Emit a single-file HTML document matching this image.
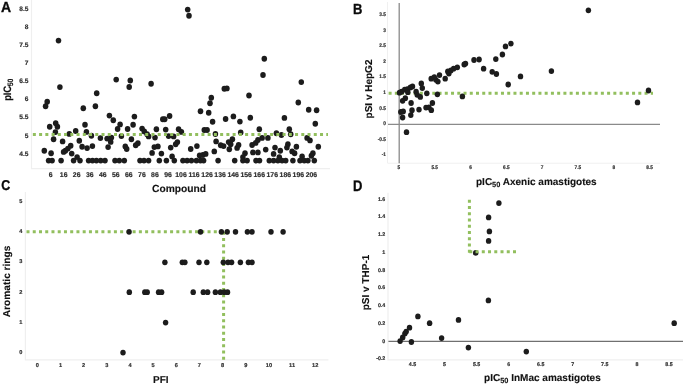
<!DOCTYPE html><html><head><meta charset="utf-8"><style>
html,body{margin:0;padding:0;background:#fff;width:685px;height:385px;overflow:hidden}
svg{display:block;font-family:"Liberation Sans",sans-serif;will-change:transform;text-rendering:geometricPrecision;filter:blur(0.3px)}
.t{font-weight:bold;fill:#2e2e2e;stroke:#2e2e2e;stroke-width:0.18px}
.L{font-weight:bold;fill:#111;font-size:10px;stroke:#111;stroke-width:0.12px}
.P{font-weight:bold;fill:#0a0a0a;font-size:14px;stroke:#0a0a0a;stroke-width:0.3px}
</style></head><body>
<svg width="685" height="385" viewBox="0 0 685 385">
<text class="P" transform="translate(0.9 11.75) scale(1 1.045)">A</text>
<path d="M31.5 0V168.6H330" fill="none" stroke="#efefef" stroke-width="1.2"/>
<text class="t" font-size="6.6" transform="translate(28.40 11.10)" text-anchor="end">8.5</text>
<text class="t" font-size="6.6" transform="translate(28.40 29.16)" text-anchor="end">8</text>
<text class="t" font-size="6.6" transform="translate(28.40 47.22)" text-anchor="end">7.5</text>
<text class="t" font-size="6.6" transform="translate(28.40 65.28)" text-anchor="end">7</text>
<text class="t" font-size="6.6" transform="translate(28.40 83.34)" text-anchor="end">6.5</text>
<text class="t" font-size="6.6" transform="translate(28.40 101.40)" text-anchor="end">6</text>
<text class="t" font-size="6.6" transform="translate(28.40 119.46)" text-anchor="end">5.5</text>
<text class="t" font-size="6.6" transform="translate(28.40 137.52)" text-anchor="end">5</text>
<text class="t" font-size="6.6" transform="translate(28.40 155.58)" text-anchor="end">4.5</text>
<text class="t" font-size="6.9" transform="translate(50.60 176.75)" text-anchor="middle">6</text>
<text class="t" font-size="6.9" transform="translate(63.64 176.75)" text-anchor="middle">16</text>
<text class="t" font-size="6.9" transform="translate(76.68 176.75)" text-anchor="middle">26</text>
<text class="t" font-size="6.9" transform="translate(89.72 176.75)" text-anchor="middle">36</text>
<text class="t" font-size="6.9" transform="translate(102.76 176.75)" text-anchor="middle">46</text>
<text class="t" font-size="6.9" transform="translate(115.80 176.75)" text-anchor="middle">56</text>
<text class="t" font-size="6.9" transform="translate(128.84 176.75)" text-anchor="middle">66</text>
<text class="t" font-size="6.9" transform="translate(141.88 176.75)" text-anchor="middle">76</text>
<text class="t" font-size="6.9" transform="translate(154.92 176.75)" text-anchor="middle">86</text>
<text class="t" font-size="6.9" transform="translate(167.96 176.75)" text-anchor="middle">96</text>
<text class="t" font-size="6.9" transform="translate(181.00 176.75)" text-anchor="middle">106</text>
<text class="t" font-size="6.9" transform="translate(194.04 176.75)" text-anchor="middle">116</text>
<text class="t" font-size="6.9" transform="translate(207.08 176.75)" text-anchor="middle">126</text>
<text class="t" font-size="6.9" transform="translate(220.12 176.75)" text-anchor="middle">136</text>
<text class="t" font-size="6.9" transform="translate(233.16 176.75)" text-anchor="middle">146</text>
<text class="t" font-size="6.9" transform="translate(246.20 176.75)" text-anchor="middle">156</text>
<text class="t" font-size="6.9" transform="translate(259.24 176.75)" text-anchor="middle">166</text>
<text class="t" font-size="6.9" transform="translate(272.28 176.75)" text-anchor="middle">176</text>
<text class="t" font-size="6.9" transform="translate(285.32 176.75)" text-anchor="middle">186</text>
<text class="t" font-size="6.9" transform="translate(298.36 176.75)" text-anchor="middle">196</text>
<text class="t" font-size="6.9" transform="translate(311.40 176.75)" text-anchor="middle">206</text>
<g fill="#1c1c1c"><ellipse cx="58.5" cy="40.6" rx="2.78" ry="2.95"/><ellipse cx="187.7" cy="9.6" rx="2.78" ry="2.95"/><ellipse cx="189.0" cy="15.8" rx="2.78" ry="2.95"/><ellipse cx="264.3" cy="58.7" rx="2.78" ry="2.95"/><ellipse cx="263.0" cy="75.0" rx="2.78" ry="2.95"/><ellipse cx="59.9" cy="87.1" rx="2.78" ry="2.95"/><ellipse cx="47.2" cy="101.7" rx="2.78" ry="2.95"/><ellipse cx="45.6" cy="106.2" rx="2.78" ry="2.95"/><ellipse cx="83.3" cy="108.2" rx="2.78" ry="2.95"/><ellipse cx="49.7" cy="126.7" rx="2.78" ry="2.95"/><ellipse cx="55.7" cy="123.3" rx="2.78" ry="2.95"/><ellipse cx="57.4" cy="126.7" rx="2.78" ry="2.95"/><ellipse cx="55.4" cy="132.1" rx="2.78" ry="2.95"/><ellipse cx="53.6" cy="139.3" rx="2.78" ry="2.95"/><ellipse cx="62.6" cy="141.4" rx="2.78" ry="2.95"/><ellipse cx="69.3" cy="133.9" rx="2.78" ry="2.95"/><ellipse cx="75.7" cy="131.0" rx="2.78" ry="2.95"/><ellipse cx="85.0" cy="124.7" rx="2.78" ry="2.95"/><ellipse cx="86.4" cy="131.9" rx="2.78" ry="2.95"/><ellipse cx="91.4" cy="135.7" rx="2.78" ry="2.95"/><ellipse cx="79.3" cy="140.7" rx="2.78" ry="2.95"/><ellipse cx="82.1" cy="146.7" rx="2.78" ry="2.95"/><ellipse cx="87.1" cy="148.1" rx="2.78" ry="2.95"/><ellipse cx="92.4" cy="146.1" rx="2.78" ry="2.95"/><ellipse cx="44.3" cy="150.7" rx="2.78" ry="2.95"/><ellipse cx="51.1" cy="153.3" rx="2.78" ry="2.95"/><ellipse cx="70.7" cy="145.7" rx="2.78" ry="2.95"/><ellipse cx="67.9" cy="148.6" rx="2.78" ry="2.95"/><ellipse cx="65.4" cy="150.7" rx="2.78" ry="2.95"/><ellipse cx="63.6" cy="151.9" rx="2.78" ry="2.95"/><ellipse cx="71.7" cy="153.6" rx="2.78" ry="2.95"/><ellipse cx="77.1" cy="157.1" rx="2.78" ry="2.95"/><ellipse cx="116.2" cy="79.6" rx="2.78" ry="2.95"/><ellipse cx="130.3" cy="80.5" rx="2.78" ry="2.95"/><ellipse cx="129.2" cy="87.0" rx="2.78" ry="2.95"/><ellipse cx="96.7" cy="93.2" rx="2.78" ry="2.95"/><ellipse cx="95.4" cy="106.2" rx="2.78" ry="2.95"/><ellipse cx="109.4" cy="115.6" rx="2.78" ry="2.95"/><ellipse cx="113.3" cy="120.3" rx="2.78" ry="2.95"/><ellipse cx="134.4" cy="116.6" rx="2.78" ry="2.95"/><ellipse cx="120.1" cy="124.4" rx="2.78" ry="2.95"/><ellipse cx="133.1" cy="124.7" rx="2.78" ry="2.95"/><ellipse cx="100.4" cy="138.1" rx="2.78" ry="2.95"/><ellipse cx="107.1" cy="138.6" rx="2.78" ry="2.95"/><ellipse cx="111.4" cy="137.6" rx="2.78" ry="2.95"/><ellipse cx="110.7" cy="141.9" rx="2.78" ry="2.95"/><ellipse cx="117.6" cy="129.0" rx="2.78" ry="2.95"/><ellipse cx="121.4" cy="136.1" rx="2.78" ry="2.95"/><ellipse cx="127.6" cy="129.0" rx="2.78" ry="2.95"/><ellipse cx="131.4" cy="139.3" rx="2.78" ry="2.95"/><ellipse cx="135.7" cy="145.3" rx="2.78" ry="2.95"/><ellipse cx="137.9" cy="143.3" rx="2.78" ry="2.95"/><ellipse cx="142.1" cy="128.6" rx="2.78" ry="2.95"/><ellipse cx="144.3" cy="131.4" rx="2.78" ry="2.95"/><ellipse cx="147.1" cy="134.3" rx="2.78" ry="2.95"/><ellipse cx="108.1" cy="147.1" rx="2.78" ry="2.95"/><ellipse cx="125.3" cy="146.4" rx="2.78" ry="2.95"/><ellipse cx="126.7" cy="149.0" rx="2.78" ry="2.95"/><ellipse cx="151.1" cy="83.8" rx="2.78" ry="2.95"/><ellipse cx="169.6" cy="116.0" rx="2.78" ry="2.95"/><ellipse cx="162.8" cy="119.2" rx="2.78" ry="2.95"/><ellipse cx="164.7" cy="119.2" rx="2.78" ry="2.95"/><ellipse cx="200.5" cy="111.2" rx="2.78" ry="2.95"/><ellipse cx="148.6" cy="136.4" rx="2.78" ry="2.95"/><ellipse cx="156.4" cy="129.3" rx="2.78" ry="2.95"/><ellipse cx="155.0" cy="137.6" rx="2.78" ry="2.95"/><ellipse cx="165.7" cy="129.6" rx="2.78" ry="2.95"/><ellipse cx="168.6" cy="136.1" rx="2.78" ry="2.95"/><ellipse cx="173.6" cy="136.4" rx="2.78" ry="2.95"/><ellipse cx="178.6" cy="129.3" rx="2.78" ry="2.95"/><ellipse cx="181.4" cy="131.9" rx="2.78" ry="2.95"/><ellipse cx="204.3" cy="130.0" rx="2.78" ry="2.95"/><ellipse cx="154.3" cy="147.1" rx="2.78" ry="2.95"/><ellipse cx="157.9" cy="146.4" rx="2.78" ry="2.95"/><ellipse cx="152.1" cy="152.9" rx="2.78" ry="2.95"/><ellipse cx="161.4" cy="153.6" rx="2.78" ry="2.95"/><ellipse cx="170.7" cy="147.6" rx="2.78" ry="2.95"/><ellipse cx="175.7" cy="144.3" rx="2.78" ry="2.95"/><ellipse cx="177.4" cy="142.1" rx="2.78" ry="2.95"/><ellipse cx="190.7" cy="149.0" rx="2.78" ry="2.95"/><ellipse cx="196.9" cy="146.1" rx="2.78" ry="2.95"/><ellipse cx="172.1" cy="156.4" rx="2.78" ry="2.95"/><ellipse cx="199.6" cy="155.5" rx="2.78" ry="2.95"/><ellipse cx="202.9" cy="155.0" rx="2.78" ry="2.95"/><ellipse cx="224.3" cy="88.7" rx="2.78" ry="2.95"/><ellipse cx="226.9" cy="88.4" rx="2.78" ry="2.95"/><ellipse cx="211.3" cy="97.8" rx="2.78" ry="2.95"/><ellipse cx="210.0" cy="103.3" rx="2.78" ry="2.95"/><ellipse cx="208.7" cy="112.7" rx="2.78" ry="2.95"/><ellipse cx="249.0" cy="95.5" rx="2.78" ry="2.95"/><ellipse cx="212.6" cy="121.8" rx="2.78" ry="2.95"/><ellipse cx="225.6" cy="119.0" rx="2.78" ry="2.95"/><ellipse cx="233.4" cy="116.4" rx="2.78" ry="2.95"/><ellipse cx="239.9" cy="121.6" rx="2.78" ry="2.95"/><ellipse cx="250.3" cy="117.7" rx="2.78" ry="2.95"/><ellipse cx="207.1" cy="130.0" rx="2.78" ry="2.95"/><ellipse cx="215.4" cy="134.0" rx="2.78" ry="2.95"/><ellipse cx="240.7" cy="132.4" rx="2.78" ry="2.95"/><ellipse cx="259.3" cy="129.3" rx="2.78" ry="2.95"/><ellipse cx="216.1" cy="141.4" rx="2.78" ry="2.95"/><ellipse cx="220.7" cy="145.3" rx="2.78" ry="2.95"/><ellipse cx="223.6" cy="146.1" rx="2.78" ry="2.95"/><ellipse cx="228.6" cy="142.1" rx="2.78" ry="2.95"/><ellipse cx="232.4" cy="139.3" rx="2.78" ry="2.95"/><ellipse cx="230.7" cy="144.3" rx="2.78" ry="2.95"/><ellipse cx="229.3" cy="149.3" rx="2.78" ry="2.95"/><ellipse cx="237.1" cy="147.9" rx="2.78" ry="2.95"/><ellipse cx="238.6" cy="145.0" rx="2.78" ry="2.95"/><ellipse cx="214.3" cy="151.4" rx="2.78" ry="2.95"/><ellipse cx="205.7" cy="153.9" rx="2.78" ry="2.95"/><ellipse cx="252.1" cy="145.0" rx="2.78" ry="2.95"/><ellipse cx="255.7" cy="142.9" rx="2.78" ry="2.95"/><ellipse cx="257.9" cy="140.0" rx="2.78" ry="2.95"/><ellipse cx="252.9" cy="152.4" rx="2.78" ry="2.95"/><ellipse cx="257.9" cy="152.4" rx="2.78" ry="2.95"/><ellipse cx="245.0" cy="153.3" rx="2.78" ry="2.95"/><ellipse cx="242.9" cy="157.1" rx="2.78" ry="2.95"/><ellipse cx="301.3" cy="82.1" rx="2.78" ry="2.95"/><ellipse cx="298.3" cy="102.5" rx="2.78" ry="2.95"/><ellipse cx="308.7" cy="109.8" rx="2.78" ry="2.95"/><ellipse cx="316.6" cy="110.3" rx="2.78" ry="2.95"/><ellipse cx="284.4" cy="117.9" rx="2.78" ry="2.95"/><ellipse cx="315.3" cy="123.7" rx="2.78" ry="2.95"/><ellipse cx="289.3" cy="129.3" rx="2.78" ry="2.95"/><ellipse cx="276.4" cy="133.3" rx="2.78" ry="2.95"/><ellipse cx="281.4" cy="135.0" rx="2.78" ry="2.95"/><ellipse cx="290.7" cy="134.3" rx="2.78" ry="2.95"/><ellipse cx="262.1" cy="137.9" rx="2.78" ry="2.95"/><ellipse cx="267.9" cy="137.9" rx="2.78" ry="2.95"/><ellipse cx="307.1" cy="137.9" rx="2.78" ry="2.95"/><ellipse cx="310.0" cy="140.4" rx="2.78" ry="2.95"/><ellipse cx="275.0" cy="147.6" rx="2.78" ry="2.95"/><ellipse cx="265.7" cy="149.6" rx="2.78" ry="2.95"/><ellipse cx="287.9" cy="144.3" rx="2.78" ry="2.95"/><ellipse cx="286.9" cy="147.6" rx="2.78" ry="2.95"/><ellipse cx="296.4" cy="146.7" rx="2.78" ry="2.95"/><ellipse cx="318.3" cy="146.7" rx="2.78" ry="2.95"/><ellipse cx="280.3" cy="150.7" rx="2.78" ry="2.95"/><ellipse cx="273.6" cy="153.9" rx="2.78" ry="2.95"/><ellipse cx="292.1" cy="151.4" rx="2.78" ry="2.95"/><ellipse cx="294.6" cy="153.3" rx="2.78" ry="2.95"/><ellipse cx="312.9" cy="153.3" rx="2.78" ry="2.95"/><ellipse cx="302.1" cy="156.4" rx="2.78" ry="2.95"/><ellipse cx="311.4" cy="155.7" rx="2.78" ry="2.95"/><ellipse cx="279.3" cy="157.1" rx="2.78" ry="2.95"/><ellipse cx="48.6" cy="160.6" rx="2.78" ry="2.95"/><ellipse cx="52.1" cy="160.6" rx="2.78" ry="2.95"/><ellipse cx="61.1" cy="160.6" rx="2.78" ry="2.95"/><ellipse cx="73.6" cy="160.6" rx="2.78" ry="2.95"/><ellipse cx="80.0" cy="160.6" rx="2.78" ry="2.95"/><ellipse cx="88.6" cy="160.6" rx="2.78" ry="2.95"/><ellipse cx="92.5" cy="160.6" rx="2.78" ry="2.95"/><ellipse cx="96.4" cy="160.6" rx="2.78" ry="2.95"/><ellipse cx="100.7" cy="160.6" rx="2.78" ry="2.95"/><ellipse cx="105.0" cy="160.6" rx="2.78" ry="2.95"/><ellipse cx="115.0" cy="160.6" rx="2.78" ry="2.95"/><ellipse cx="119.3" cy="160.6" rx="2.78" ry="2.95"/><ellipse cx="124.3" cy="160.6" rx="2.78" ry="2.95"/><ellipse cx="140.0" cy="160.6" rx="2.78" ry="2.95"/><ellipse cx="144.0" cy="160.6" rx="2.78" ry="2.95"/><ellipse cx="148.6" cy="160.6" rx="2.78" ry="2.95"/><ellipse cx="159.3" cy="160.6" rx="2.78" ry="2.95"/><ellipse cx="166.4" cy="160.6" rx="2.78" ry="2.95"/><ellipse cx="174.3" cy="160.6" rx="2.78" ry="2.95"/><ellipse cx="182.9" cy="160.6" rx="2.78" ry="2.95"/><ellipse cx="187.1" cy="160.6" rx="2.78" ry="2.95"/><ellipse cx="191.4" cy="160.6" rx="2.78" ry="2.95"/><ellipse cx="196.4" cy="160.6" rx="2.78" ry="2.95"/><ellipse cx="200.5" cy="160.6" rx="2.78" ry="2.95"/><ellipse cx="203.6" cy="160.6" rx="2.78" ry="2.95"/><ellipse cx="218.1" cy="160.6" rx="2.78" ry="2.95"/><ellipse cx="234.7" cy="160.6" rx="2.78" ry="2.95"/><ellipse cx="242.9" cy="160.6" rx="2.78" ry="2.95"/><ellipse cx="247.1" cy="160.6" rx="2.78" ry="2.95"/><ellipse cx="256.0" cy="160.6" rx="2.78" ry="2.95"/><ellipse cx="259.5" cy="160.6" rx="2.78" ry="2.95"/><ellipse cx="269.3" cy="160.6" rx="2.78" ry="2.95"/><ellipse cx="273.6" cy="160.6" rx="2.78" ry="2.95"/><ellipse cx="277.9" cy="160.6" rx="2.78" ry="2.95"/><ellipse cx="282.1" cy="160.6" rx="2.78" ry="2.95"/><ellipse cx="285.7" cy="160.6" rx="2.78" ry="2.95"/><ellipse cx="292.9" cy="160.6" rx="2.78" ry="2.95"/><ellipse cx="300.0" cy="160.6" rx="2.78" ry="2.95"/><ellipse cx="304.3" cy="160.6" rx="2.78" ry="2.95"/><ellipse cx="307.9" cy="160.6" rx="2.78" ry="2.95"/><ellipse cx="314.3" cy="160.6" rx="2.78" ry="2.95"/></g>
<line x1="32.85" y1="134.4" x2="328" y2="134.4" stroke="#92bf5e" stroke-width="3" stroke-dasharray="3 3.243"/>
<text class="L" x="152.0" y="191.9" style="font-size:10.25px">Compound</text>
<text class="L" transform="translate(11.2 100.7) rotate(-90) scale(0.96 1.08)" letter-spacing="-0.35">pIC<tspan font-size="7.2" dy="1.5" letter-spacing="0">50</tspan></text>
<text class="P" transform="translate(352.9 13.75) scale(0.93 1.05)">B</text>
<path d="M387.5 2V163.2H660" fill="none" stroke="#f0f0f0" stroke-width="1"/>
<line x1="399.2" y1="3" x2="399.2" y2="163.2" stroke="#8a8a8a" stroke-width="1.3"/>
<line x1="388" y1="124.4" x2="660" y2="124.4" stroke="#8a8a8a" stroke-width="1.3"/>
<text class="t" font-size="5.2" transform="translate(385.90 16.00) scale(0.92 1)" text-anchor="end">3.5</text>
<text class="t" font-size="5.2" transform="translate(385.90 31.60) scale(0.92 1)" text-anchor="end">3</text>
<text class="t" font-size="5.2" transform="translate(385.90 47.20) scale(0.92 1)" text-anchor="end">2.5</text>
<text class="t" font-size="5.2" transform="translate(385.90 62.80) scale(0.92 1)" text-anchor="end">2</text>
<text class="t" font-size="5.2" transform="translate(385.90 78.40) scale(0.92 1)" text-anchor="end">1.5</text>
<text class="t" font-size="5.2" transform="translate(385.90 94.00) scale(0.92 1)" text-anchor="end">1</text>
<text class="t" font-size="5.2" transform="translate(385.90 109.60) scale(0.92 1)" text-anchor="end">0.5</text>
<text class="t" font-size="5.2" transform="translate(385.90 125.20) scale(0.92 1)" text-anchor="end">0</text>
<text class="t" font-size="5.2" transform="translate(385.90 140.80) scale(0.92 1)" text-anchor="end">-0.5</text>
<text class="t" font-size="5.2" transform="translate(385.90 156.40) scale(0.92 1)" text-anchor="end">-1</text>
<text class="t" font-size="5.2" transform="translate(398.90 169.10) scale(0.92 1)" text-anchor="middle">5</text>
<text class="t" font-size="5.2" transform="translate(434.70 169.10) scale(0.92 1)" text-anchor="middle">5.5</text>
<text class="t" font-size="5.2" transform="translate(470.50 169.10) scale(0.92 1)" text-anchor="middle">6</text>
<text class="t" font-size="5.2" transform="translate(506.30 169.10) scale(0.92 1)" text-anchor="middle">6.5</text>
<text class="t" font-size="5.2" transform="translate(542.10 169.10) scale(0.92 1)" text-anchor="middle">7</text>
<text class="t" font-size="5.2" transform="translate(577.90 169.10) scale(0.92 1)" text-anchor="middle">7.5</text>
<text class="t" font-size="5.2" transform="translate(613.70 169.10) scale(0.92 1)" text-anchor="middle">8</text>
<text class="t" font-size="5.2" transform="translate(649.50 169.10) scale(0.92 1)" text-anchor="middle">8.5</text>
<line x1="388.6" y1="93.2" x2="653" y2="93.2" stroke="#92bf5e" stroke-width="3" stroke-dasharray="3 3.243"/>
<g fill="#1c1c1c"><ellipse cx="399.5" cy="92.7" rx="2.73" ry="2.90"/><ellipse cx="401.6" cy="91.7" rx="2.73" ry="2.90"/><ellipse cx="404.7" cy="89.6" rx="2.73" ry="2.90"/><ellipse cx="407.3" cy="89.1" rx="2.73" ry="2.90"/><ellipse cx="410.4" cy="87.5" rx="2.73" ry="2.90"/><ellipse cx="412.5" cy="86.5" rx="2.73" ry="2.90"/><ellipse cx="407.8" cy="92.2" rx="2.73" ry="2.90"/><ellipse cx="416.1" cy="91.7" rx="2.73" ry="2.90"/><ellipse cx="417.2" cy="94.8" rx="2.73" ry="2.90"/><ellipse cx="420.3" cy="96.9" rx="2.73" ry="2.90"/><ellipse cx="405.3" cy="98.2" rx="2.73" ry="2.90"/><ellipse cx="402.6" cy="100.8" rx="2.73" ry="2.90"/><ellipse cx="411.1" cy="103.0" rx="2.73" ry="2.90"/><ellipse cx="421.3" cy="83.4" rx="2.73" ry="2.90"/><ellipse cx="422.3" cy="88.1" rx="2.73" ry="2.90"/><ellipse cx="426.8" cy="93.3" rx="2.73" ry="2.90"/><ellipse cx="437.4" cy="94.3" rx="2.73" ry="2.90"/><ellipse cx="431.2" cy="78.7" rx="2.73" ry="2.90"/><ellipse cx="434.3" cy="77.2" rx="2.73" ry="2.90"/><ellipse cx="435.9" cy="79.8" rx="2.73" ry="2.90"/><ellipse cx="437.9" cy="81.6" rx="2.73" ry="2.90"/><ellipse cx="439.5" cy="75.1" rx="2.73" ry="2.90"/><ellipse cx="445.2" cy="78.7" rx="2.73" ry="2.90"/><ellipse cx="447.8" cy="71.4" rx="2.73" ry="2.90"/><ellipse cx="448.9" cy="73.5" rx="2.73" ry="2.90"/><ellipse cx="450.9" cy="70.4" rx="2.73" ry="2.90"/><ellipse cx="453.6" cy="68.7" rx="2.73" ry="2.90"/><ellipse cx="457.3" cy="67.3" rx="2.73" ry="2.90"/><ellipse cx="464.2" cy="64.5" rx="2.73" ry="2.90"/><ellipse cx="465.5" cy="63.6" rx="2.73" ry="2.90"/><ellipse cx="474.0" cy="60.0" rx="2.73" ry="2.90"/><ellipse cx="479.1" cy="59.5" rx="2.73" ry="2.90"/><ellipse cx="483.6" cy="68.7" rx="2.73" ry="2.90"/><ellipse cx="492.2" cy="71.8" rx="2.73" ry="2.90"/><ellipse cx="496.4" cy="74.0" rx="2.73" ry="2.90"/><ellipse cx="495.8" cy="59.1" rx="2.73" ry="2.90"/><ellipse cx="502.4" cy="54.5" rx="2.73" ry="2.90"/><ellipse cx="505.5" cy="46.4" rx="2.73" ry="2.90"/><ellipse cx="510.9" cy="43.6" rx="2.73" ry="2.90"/><ellipse cx="508.2" cy="84.5" rx="2.73" ry="2.90"/><ellipse cx="520.5" cy="76.4" rx="2.73" ry="2.90"/><ellipse cx="551.4" cy="71.1" rx="2.73" ry="2.90"/><ellipse cx="588.4" cy="10.3" rx="2.73" ry="2.90"/><ellipse cx="637.5" cy="102.4" rx="2.73" ry="2.90"/><ellipse cx="648.5" cy="90.5" rx="2.73" ry="2.90"/><ellipse cx="462.4" cy="96.4" rx="2.73" ry="2.90"/><ellipse cx="432.4" cy="103.0" rx="2.73" ry="2.90"/><ellipse cx="426.0" cy="107.6" rx="2.73" ry="2.90"/><ellipse cx="428.9" cy="107.3" rx="2.73" ry="2.90"/><ellipse cx="431.3" cy="110.2" rx="2.73" ry="2.90"/><ellipse cx="419.0" cy="109.6" rx="2.73" ry="2.90"/><ellipse cx="412.0" cy="110.2" rx="2.73" ry="2.90"/><ellipse cx="410.8" cy="115.1" rx="2.73" ry="2.90"/><ellipse cx="400.8" cy="112.0" rx="2.73" ry="2.90"/><ellipse cx="403.2" cy="111.4" rx="2.73" ry="2.90"/><ellipse cx="402.6" cy="117.5" rx="2.73" ry="2.90"/><ellipse cx="406.5" cy="132.2" rx="2.73" ry="2.90"/></g>
<text class="L" transform="translate(372.3 89) rotate(-90)" text-anchor="middle">pSI v HepG2</text>
<text class="L" x="476" y="185.3">pIC<tspan font-size="7.4" dy="1.8">50</tspan><tspan dy="-1.8"> Axenic amastigotes</tspan></text>
<text class="P" transform="translate(1.3 190.1) scale(0.89 1.02)">C</text>
<path d="M25.4 192V359.9H328.4" fill="none" stroke="#efefef" stroke-width="1.2"/>
<text class="t" font-size="5.6" transform="translate(20.70 203.00)" text-anchor="middle">5</text>
<text class="t" font-size="5.6" transform="translate(20.70 233.20)" text-anchor="middle">4</text>
<text class="t" font-size="5.6" transform="translate(20.70 263.40)" text-anchor="middle">3</text>
<text class="t" font-size="5.6" transform="translate(20.70 293.60)" text-anchor="middle">2</text>
<text class="t" font-size="5.6" transform="translate(20.70 323.80)" text-anchor="middle">1</text>
<text class="t" font-size="5.6" transform="translate(20.70 354.00)" text-anchor="middle">0</text>
<text class="t" font-size="5.6" transform="translate(37.30 367.20)" text-anchor="middle">0</text>
<text class="t" font-size="5.6" transform="translate(60.46 367.20)" text-anchor="middle">1</text>
<text class="t" font-size="5.6" transform="translate(83.62 367.20)" text-anchor="middle">2</text>
<text class="t" font-size="5.6" transform="translate(106.78 367.20)" text-anchor="middle">3</text>
<text class="t" font-size="5.6" transform="translate(129.94 367.20)" text-anchor="middle">4</text>
<text class="t" font-size="5.6" transform="translate(153.10 367.20)" text-anchor="middle">5</text>
<text class="t" font-size="5.6" transform="translate(176.26 367.20)" text-anchor="middle">6</text>
<text class="t" font-size="5.6" transform="translate(199.42 367.20)" text-anchor="middle">7</text>
<text class="t" font-size="5.6" transform="translate(222.58 367.20)" text-anchor="middle">8</text>
<text class="t" font-size="5.6" transform="translate(245.74 367.20)" text-anchor="middle">9</text>
<text class="t" font-size="5.6" transform="translate(268.90 367.20)" text-anchor="middle">10</text>
<text class="t" font-size="5.6" transform="translate(292.06 367.20)" text-anchor="middle">11</text>
<text class="t" font-size="5.6" transform="translate(315.22 367.20)" text-anchor="middle">12</text>
<line x1="26.5" y1="231.85" x2="223" y2="231.85" stroke="#92bf5e" stroke-width="3" stroke-dasharray="3 3.243"/>
<line x1="223.6" y1="231.8" x2="223.6" y2="359.7" stroke="#92bf5e" stroke-width="3" stroke-dasharray="3 3.243"/>
<g fill="#1c1c1c"><ellipse cx="123.0" cy="352.6" rx="2.73" ry="2.90"/><ellipse cx="165.6" cy="322.6" rx="2.73" ry="2.90"/><ellipse cx="129.3" cy="292.2" rx="2.73" ry="2.90"/><ellipse cx="144.8" cy="292.2" rx="2.73" ry="2.90"/><ellipse cx="147.2" cy="292.2" rx="2.73" ry="2.90"/><ellipse cx="158.6" cy="292.2" rx="2.73" ry="2.90"/><ellipse cx="161.6" cy="292.2" rx="2.73" ry="2.90"/><ellipse cx="193.2" cy="292.2" rx="2.73" ry="2.90"/><ellipse cx="203.3" cy="292.2" rx="2.73" ry="2.90"/><ellipse cx="207.6" cy="292.2" rx="2.73" ry="2.90"/><ellipse cx="215.4" cy="292.2" rx="2.73" ry="2.90"/><ellipse cx="220.4" cy="292.2" rx="2.73" ry="2.90"/><ellipse cx="224.2" cy="292.2" rx="2.73" ry="2.90"/><ellipse cx="227.5" cy="292.2" rx="2.73" ry="2.90"/><ellipse cx="164.9" cy="262.3" rx="2.73" ry="2.90"/><ellipse cx="182.3" cy="262.3" rx="2.73" ry="2.90"/><ellipse cx="184.9" cy="262.3" rx="2.73" ry="2.90"/><ellipse cx="199.0" cy="262.3" rx="2.73" ry="2.90"/><ellipse cx="206.8" cy="262.3" rx="2.73" ry="2.90"/><ellipse cx="223.3" cy="262.3" rx="2.73" ry="2.90"/><ellipse cx="228.0" cy="262.3" rx="2.73" ry="2.90"/><ellipse cx="231.6" cy="262.3" rx="2.73" ry="2.90"/><ellipse cx="240.4" cy="262.3" rx="2.73" ry="2.90"/><ellipse cx="248.4" cy="262.3" rx="2.73" ry="2.90"/><ellipse cx="252.0" cy="262.3" rx="2.73" ry="2.90"/><ellipse cx="129.1" cy="231.8" rx="2.73" ry="2.90"/><ellipse cx="200.5" cy="231.8" rx="2.73" ry="2.90"/><ellipse cx="221.4" cy="231.8" rx="2.73" ry="2.90"/><ellipse cx="227.2" cy="231.8" rx="2.73" ry="2.90"/><ellipse cx="235.5" cy="231.8" rx="2.73" ry="2.90"/><ellipse cx="247.4" cy="231.8" rx="2.73" ry="2.90"/><ellipse cx="252.0" cy="231.8" rx="2.73" ry="2.90"/><ellipse cx="271.0" cy="231.8" rx="2.73" ry="2.90"/><ellipse cx="283.1" cy="231.8" rx="2.73" ry="2.90"/></g>
<text class="L" transform="translate(10.4 281.4) rotate(-90) scale(1.015 1)" text-anchor="middle">Aromatic rings</text>
<text class="L" x="153" y="382.8">PFI</text>
<text class="P" transform="translate(353 191.0) scale(0.93 1.1)">D</text>
<path d="M388 192.8V359.9H683" fill="none" stroke="#efefef" stroke-width="1.2"/>
<line x1="388.4" y1="341.4" x2="683" y2="341.4" stroke="#707070" stroke-width="1.25"/>
<text class="t" font-size="5.3" transform="translate(385.30 200.50)" text-anchor="end">1.6</text>
<text class="t" font-size="5.3" transform="translate(385.30 218.26)" text-anchor="end">1.4</text>
<text class="t" font-size="5.3" transform="translate(385.30 236.02)" text-anchor="end">1.2</text>
<text class="t" font-size="5.3" transform="translate(385.30 253.78)" text-anchor="end">1</text>
<text class="t" font-size="5.3" transform="translate(385.30 271.54)" text-anchor="end">0.8</text>
<text class="t" font-size="5.3" transform="translate(385.30 289.30)" text-anchor="end">0.6</text>
<text class="t" font-size="5.3" transform="translate(385.30 307.06)" text-anchor="end">0.4</text>
<text class="t" font-size="5.3" transform="translate(385.30 324.82)" text-anchor="end">0.2</text>
<text class="t" font-size="5.3" transform="translate(385.30 342.58)" text-anchor="end">0</text>
<text class="t" font-size="5.3" transform="translate(385.30 360.34)" text-anchor="end">-0.2</text>
<text class="t" font-size="5.3" transform="translate(412.50 366.30)" text-anchor="middle">4.5</text>
<text class="t" font-size="5.3" transform="translate(444.55 366.30)" text-anchor="middle">5</text>
<text class="t" font-size="5.3" transform="translate(476.60 366.30)" text-anchor="middle">5.5</text>
<text class="t" font-size="5.3" transform="translate(508.65 366.30)" text-anchor="middle">6</text>
<text class="t" font-size="5.3" transform="translate(540.70 366.30)" text-anchor="middle">6.5</text>
<text class="t" font-size="5.3" transform="translate(572.75 366.30)" text-anchor="middle">7</text>
<text class="t" font-size="5.3" transform="translate(604.80 366.30)" text-anchor="middle">7.5</text>
<text class="t" font-size="5.3" transform="translate(636.85 366.30)" text-anchor="middle">8</text>
<text class="t" font-size="5.3" transform="translate(668.90 366.30)" text-anchor="middle">8.5</text>
<g fill="#1c1c1c"><ellipse cx="400.1" cy="341.1" rx="2.73" ry="2.90"/><ellipse cx="402.7" cy="337.5" rx="2.73" ry="2.90"/><ellipse cx="404.9" cy="333.6" rx="2.73" ry="2.90"/><ellipse cx="406.2" cy="331.6" rx="2.73" ry="2.90"/><ellipse cx="409.5" cy="327.7" rx="2.73" ry="2.90"/><ellipse cx="411.4" cy="342.0" rx="2.73" ry="2.90"/><ellipse cx="417.9" cy="316.4" rx="2.73" ry="2.90"/><ellipse cx="429.6" cy="323.2" rx="2.73" ry="2.90"/><ellipse cx="441.6" cy="338.1" rx="2.73" ry="2.90"/><ellipse cx="458.5" cy="319.9" rx="2.73" ry="2.90"/><ellipse cx="468.4" cy="347.6" rx="2.73" ry="2.90"/><ellipse cx="488.4" cy="300.4" rx="2.73" ry="2.90"/><ellipse cx="526.3" cy="351.6" rx="2.73" ry="2.90"/><ellipse cx="674.2" cy="323.2" rx="2.73" ry="2.90"/><ellipse cx="475.7" cy="252.9" rx="2.73" ry="2.90"/><ellipse cx="488.6" cy="240.9" rx="2.73" ry="2.90"/><ellipse cx="489.4" cy="231.4" rx="2.73" ry="2.90"/><ellipse cx="488.6" cy="217.4" rx="2.73" ry="2.90"/><ellipse cx="498.9" cy="203.1" rx="2.73" ry="2.90"/></g>
<line x1="469.4" y1="199.7" x2="469.4" y2="252.7" stroke="#92bf5e" stroke-width="3" stroke-dasharray="3 3.243"/>
<line x1="469.3" y1="251.7" x2="517" y2="251.7" stroke="#92bf5e" stroke-width="3" stroke-dasharray="3 3.243"/>
<text class="L" transform="translate(368.6 282.5) rotate(-90)" text-anchor="middle">pSI v THP-1</text>
<text class="L" x="484.1" y="381.3">pIC<tspan font-size="7.4" dy="1.8">50</tspan><tspan dy="-1.8"> InMac amastigotes</tspan></text>
</svg></body></html>
